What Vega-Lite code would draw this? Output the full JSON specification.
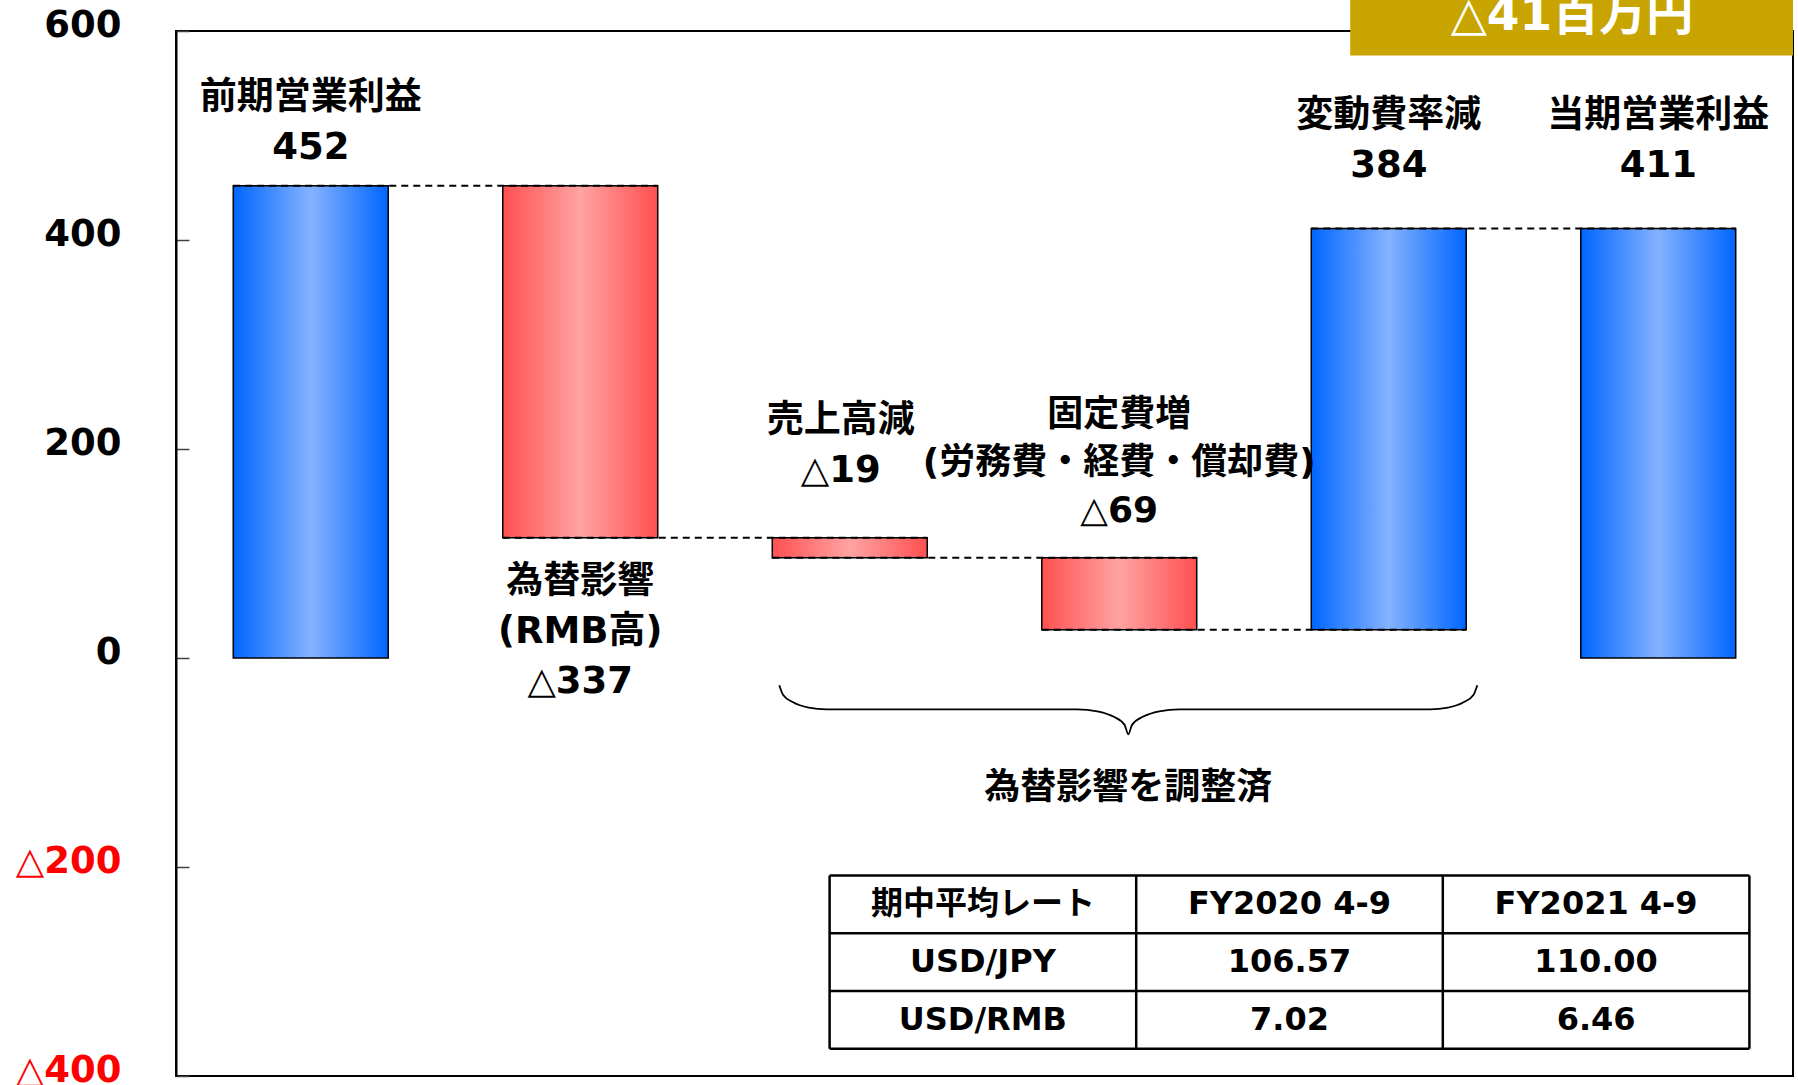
{
  "$schema": "https://vega.github.io/schema/vega-lite/v6.json",
  "autosize": "none",
  "width": 1617,
  "height": 1045,
  "padding": {"left": 176, "top": 31, "right": 5, "bottom": 9},
  "background": "white",
  "config": {
    "view": {"stroke": "black", "strokeWidth": 2},
    "axis": {"grid": false},
    "text": {"font": "DejaVu Sans, Noto Sans CJK JP", "fontWeight": "bold"}
  },
  "resolve": {"scale": {"x": "independent", "y": "independent"}},
  "layer": [
    {
      "data": {"values": [
        {"cat": "前期営業利益", "start": 0, "end": 452, "kind": "total", "label": "前期営業利益\n452"},
        {"cat": "為替影響", "start": 452, "end": 115, "kind": "down", "label": "為替影響\n(RMB高)\n△337"},
        {"cat": "売上高減", "start": 115, "end": 96, "kind": "down", "label": "売上高減\n△19"},
        {"cat": "固定費増", "start": 96, "end": 27, "kind": "down", "label": "固定費増\n(労務費・経費・償却費)\n△69"},
        {"cat": "変動費率減", "start": 27, "end": 411, "kind": "up", "label": "変動費率減\n384"},
        {"cat": "当期営業利益", "start": 0, "end": 411, "kind": "total", "label": "当期営業利益\n411"}
      ]},
      "encoding": {
        "x": {"field": "cat", "type": "nominal", "axis": null,
              "scale": {"domain": ["前期営業利益", "為替影響", "売上高減", "固定費増", "変動費率減", "当期営業利益"], "paddingInner": 0.425, "paddingOuter": 0.2125}}
      },
      "layer": [
        {
          "transform": [{"filter": "datum.kind !== 'down'"}],
          "mark": {"type": "bar", "stroke": "black", "strokeWidth": 1.5,
                   "fill": {"gradient": "linear", "x1": 0, "y1": 0, "x2": 1, "y2": 0,
                            "stops": [{"offset": 0, "color": "#0066FF"}, {"offset": 0.5, "color": "#85B2FF"}, {"offset": 1, "color": "#0066FF"}]}},
          "encoding": {
            "y": {"field": "start", "type": "quantitative", "title": null,
                  "scale": {"domain": [-400, 600], "nice": false, "zero": false},
                  "axis": {"values": [-400, -200, 0, 200, 400, 600],
                           "labelExpr": "datum.value < 0 ? '△' + abs(datum.value) : '' + datum.value",
                           "labelColor": {"condition": {"test": "datum.value < 0", "value": "#FF0000"}, "value": "black"},
                           "labelFont": "DejaVu Sans", "labelFontSize": 37, "labelFontWeight": "bold",
                           "labelPadding": 68, "labelOffset": -6, "labelOverlap": false, "labelFlush": false, "labelBound": false,
                           "tickSize": -13, "tickColor": "#404040", "tickWidth": 1.5,
                           "domainColor": "black", "domainWidth": 2, "grid": false}},
            "y2": {"field": "end"}
          }
        },
        {
          "transform": [{"filter": "datum.kind === 'down'"}],
          "mark": {"type": "bar", "stroke": "black", "strokeWidth": 1.5,
                   "fill": {"gradient": "linear", "x1": 0, "y1": 0, "x2": 1, "y2": 0,
                            "stops": [{"offset": 0, "color": "#FF5050"}, {"offset": 0.5, "color": "#FFA3A3"}, {"offset": 1, "color": "#FF5050"}]}},
          "encoding": {
            "y": {"field": "start", "type": "quantitative", "title": null},
            "y2": {"field": "end"}
          }
        },
        {
          "data": {"values": [{}]},
          "mark": {"type": "rule", "color": "black", "strokeWidth": 2},
          "encoding": {"y": {"datum": 0, "type": "quantitative", "title": null}}
        },
        {
          "data": {"values": [
            {"from": "前期営業利益", "to": "為替影響", "level": 452},
            {"from": "為替影響", "to": "売上高減", "level": 115},
            {"from": "売上高減", "to": "固定費増", "level": 96},
            {"from": "固定費増", "to": "変動費率減", "level": 27},
            {"from": "変動費率減", "to": "当期営業利益", "level": 411}
          ]},
          "mark": {"type": "rule", "color": "black", "strokeWidth": 2, "strokeDash": [7, 5]},
          "encoding": {
            "x": {"field": "from", "type": "nominal", "bandPosition": 0, "axis": null},
            "x2": {"field": "to", "bandPosition": 1},
            "y": {"field": "level", "type": "quantitative", "title": null}
          }
        },
        {
          "transform": [{"filter": "datum.cat === '前期営業利益'"}],
          "mark": {"type": "text", "fontSize": 37, "lineHeight": 50, "lineBreak": "\n", "baseline": "bottom", "align": "center", "dy": -69, "color": "black"},
          "encoding": {"y": {"field": "end", "type": "quantitative", "title": null}, "text": {"field": "label"}}
        },
        {
          "transform": [{"filter": "datum.cat === '変動費率減' || datum.cat === '当期営業利益'"}],
          "mark": {"type": "text", "fontSize": 37, "lineHeight": 50, "lineBreak": "\n", "baseline": "bottom", "align": "center", "dy": -94, "color": "black"},
          "encoding": {"y": {"field": "end", "type": "quantitative", "title": null}, "text": {"field": "label"}}
        },
        {
          "transform": [{"filter": "datum.cat === '売上高減'"}],
          "mark": {"type": "text", "fontSize": 37, "lineHeight": 50, "lineBreak": "\n", "baseline": "bottom", "align": "center", "dy": -98, "dx": -9, "color": "black"},
          "encoding": {"y": {"field": "start", "type": "quantitative", "title": null}, "text": {"field": "label"}}
        },
        {
          "transform": [{"filter": "datum.cat === '固定費増'"}],
          "mark": {"type": "text", "fontSize": 36, "lineHeight": 48, "lineBreak": "\n", "baseline": "bottom", "align": "center", "dy": -124, "color": "black"},
          "encoding": {"y": {"field": "start", "type": "quantitative", "title": null}, "text": {"field": "label"}}
        },
        {
          "transform": [{"filter": "datum.cat === '為替影響'"}],
          "mark": {"type": "text", "fontSize": 37, "lineHeight": 50, "lineBreak": "\n", "baseline": "top", "align": "center", "dy": 26, "color": "black"},
          "encoding": {"y": {"field": "end", "type": "quantitative", "title": null}, "text": {"field": "label"}}
        }
      ]
    },
    {
      "encoding": {
        "x": {"type": "quantitative", "axis": null, "scale": {"domain": [0, 6], "nice": false, "zero": false}},
        "y": {"type": "quantitative", "axis": null, "scale": {"domain": [-400, 600], "nice": false, "zero": false}}
      },
      "layer": [
        {
          "data": {"values": [{}]},
          "mark": {"type": "rect", "color": "#C8A400"},
          "encoding": {"x": {"datum": 4.357, "type": "quantitative", "axis": null}, "x2": {"datum": 6},
                       "y": {"datum": 576.5, "type": "quantitative", "axis": null}, "y2": {"datum": 660}}
        },
        {
          "data": {"values": [{"t": "△41百万円"}]},
          "mark": {"type": "text", "fontSize": 47, "color": "white", "align": "center", "baseline": "alphabetic"},
          "encoding": {"x": {"datum": 5.18, "type": "quantitative", "axis": null},
                       "y": {"datum": 601, "type": "quantitative", "axis": null},
                       "text": {"field": "t"}}
        },
        {
          "data": {"values": [
            {"u": 2.2386, "v": -26.11}, {"u": 2.2523, "v": -35.10}, {"u": 2.2898, "v": -42.37}, {"u": 2.3477, "v": -47.44},
            {"u": 2.4130, "v": -49.07}, {"u": 3.3443, "v": -49.07}, {"u": 3.4186, "v": -50.98}, {"u": 3.4779, "v": -56.05},
            {"u": 3.5199, "v": -63.99}, {"u": 3.5336, "v": -72.98}, {"u": 3.5473, "v": -63.99}, {"u": 3.5893, "v": -56.05},
            {"u": 3.6486, "v": -50.98}, {"u": 3.7228, "v": -49.07}, {"u": 4.6542, "v": -49.07}, {"u": 4.7195, "v": -47.44},
            {"u": 4.7774, "v": -42.37}, {"u": 4.8149, "v": -35.10}, {"u": 4.8286, "v": -26.11}
          ]},
          "mark": {"type": "line", "color": "black", "strokeWidth": 1.8, "interpolate": "monotone"},
          "encoding": {"x": {"field": "u", "type": "quantitative", "axis": null},
                       "y": {"field": "v", "type": "quantitative", "axis": null}}
        },
        {
          "data": {"values": [{"t": "為替影響を調整済"}]},
          "mark": {"type": "text", "fontSize": 36, "color": "black", "align": "center", "baseline": "middle"},
          "encoding": {"x": {"datum": 3.5336, "type": "quantitative", "axis": null},
                       "y": {"datum": -124.6, "type": "quantitative", "axis": null},
                       "text": {"field": "t"}}
        }
      ]
    },
    {
      "encoding": {
        "x": {"type": "quantitative", "axis": null, "scale": {"domain": [-2.1318, 3.1422], "nice": false, "zero": false}},
        "y": {"type": "quantitative", "axis": null, "scale": {"domain": [-14.628, 3.473], "reverse": true, "nice": false, "zero": false}}
      },
      "layer": [
        {
          "data": {"values": [{"r": 0}, {"r": 1}, {"r": 2}, {"r": 3}]},
          "mark": {"type": "rule", "color": "black", "strokeWidth": 2.5},
          "encoding": {"y": {"field": "r", "type": "quantitative", "axis": null},
                       "x": {"datum": 0, "type": "quantitative", "axis": null}, "x2": {"datum": 3}}
        },
        {
          "data": {"values": [{"c": 0}, {"c": 1}, {"c": 2}, {"c": 3}]},
          "mark": {"type": "rule", "color": "black", "strokeWidth": 2.5},
          "encoding": {"x": {"field": "c", "type": "quantitative", "axis": null},
                       "y": {"datum": 0, "type": "quantitative", "axis": null}, "y2": {"datum": 3}}
        },
        {
          "data": {"values": [
            {"r": 0, "c": 0, "t": "期中平均レート"}, {"r": 0, "c": 1, "t": "FY2020 4-9"}, {"r": 0, "c": 2, "t": "FY2021 4-9"},
            {"r": 1, "c": 0, "t": "USD/JPY"}, {"r": 1, "c": 1, "t": "106.57"}, {"r": 1, "c": 2, "t": "110.00"},
            {"r": 2, "c": 0, "t": "USD/RMB"}, {"r": 2, "c": 1, "t": "7.02"}, {"r": 2, "c": 2, "t": "6.46"}
          ]},
          "mark": {"type": "text", "fontSize": 32, "color": "black", "align": "center", "baseline": "middle", "dx": 153.3, "dy": 28.9},
          "encoding": {"x": {"field": "c", "type": "quantitative", "axis": null},
                       "y": {"field": "r", "type": "quantitative", "axis": null},
                       "text": {"field": "t"}}
        }
      ]
    }
  ]
}
